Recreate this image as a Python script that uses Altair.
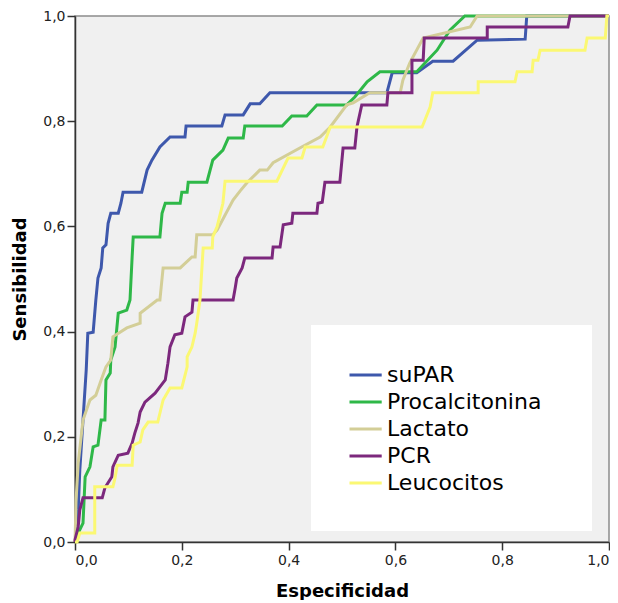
import altair as alt
import pandas as pd

series_names = ["suPAR", "Procalcitonina", "Lactato", "PCR", "Leucocitos"]
series_colors = ["#3E58AC", "#2EB848", "#D3CE97", "#7C287D", "#FBF873"]

# 1 - Especificidad (x) and Sensibilidad (y) for each ROC curve
supar_x = [0, 0.002, 0.006, 0.009, 0.015, 0.021, 0.024, 0.034, 0.039, 0.043, 0.049, 0.052, 0.058, 0.062,
           0.067, 0.081, 0.086, 0.090, 0.125, 0.135, 0.144, 0.159, 0.178, 0.206, 0.208, 0.275, 0.281,
           0.315, 0.328, 0.346, 0.365, 0.584, 0.594, 0.640, 0.670, 0.708, 0.753, 0.843, 0.846, 1.0]
supar_y = [0, 0.004, 0.061, 0.137, 0.232, 0.327, 0.397, 0.399, 0.460, 0.502, 0.521, 0.559, 0.565, 0.606,
           0.625, 0.625, 0.644, 0.665, 0.665, 0.707, 0.726, 0.751, 0.770, 0.770, 0.791, 0.791, 0.812,
           0.812, 0.833, 0.833, 0.854, 0.854, 0.892, 0.892, 0.914, 0.914, 0.954, 0.956, 1.0, 1.0]

pct_x = [0, 0.006, 0.015, 0.019, 0.028, 0.034, 0.043, 0.049, 0.056, 0.058, 0.066, 0.067, 0.075, 0.081,
         0.097, 0.103, 0.107, 0.109, 0.159, 0.163, 0.169, 0.197, 0.200, 0.210, 0.212, 0.247, 0.258,
         0.277, 0.287, 0.315, 0.318, 0.388, 0.406, 0.434, 0.453, 0.509, 0.524, 0.547, 0.571, 0.640,
         0.678, 0.702, 0.730, 1.0]
pct_y = [0, 0.017, 0.036, 0.124, 0.143, 0.181, 0.184, 0.232, 0.232, 0.308, 0.321, 0.346, 0.371, 0.435,
         0.441, 0.460, 0.542, 0.580, 0.580, 0.625, 0.644, 0.644, 0.665, 0.665, 0.684, 0.684, 0.726,
         0.745, 0.768, 0.768, 0.791, 0.791, 0.810, 0.810, 0.831, 0.831, 0.846, 0.875, 0.894, 0.894,
         0.935, 0.973, 1.0, 1.0]

lac_x = [0, 0.002, 0.006, 0.015, 0.028, 0.039, 0.049, 0.058, 0.067, 0.071, 0.097, 0.122, 0.122, 0.154,
         0.159, 0.165, 0.197, 0.219, 0.225, 0.228, 0.258, 0.266, 0.296, 0.309, 0.322, 0.346, 0.360,
         0.371, 0.421, 0.459, 0.478, 0.509, 0.521, 0.552, 0.609, 0.614, 0.627, 0.652, 0.740, 0.753, 1.0]
lac_y = [0, 0.080, 0.150, 0.232, 0.270, 0.279, 0.308, 0.333, 0.346, 0.390, 0.407, 0.416, 0.435, 0.460,
         0.460, 0.521, 0.521, 0.542, 0.542, 0.584, 0.584, 0.593, 0.650, 0.667, 0.683, 0.707, 0.707,
         0.721, 0.749, 0.770, 0.789, 0.831, 0.835, 0.854, 0.854, 0.878, 0.911, 0.958, 0.979, 1.0, 1.0]

pcr_x = [0, 0, 0.006, 0.009, 0.015, 0.051, 0.056, 0.069, 0.071, 0.081, 0.099, 0.107, 0.112, 0.118,
         0.122, 0.131, 0.150, 0.159, 0.169, 0.174, 0.178, 0.187, 0.200, 0.206, 0.219, 0.221, 0.296,
         0.300, 0.303, 0.313, 0.318, 0.369, 0.371, 0.384, 0.390, 0.406, 0.408, 0.453, 0.455, 0.463,
         0.468, 0.496, 0.502, 0.524, 0.528, 0.537, 0.584, 0.586, 0.631, 0.631, 0.652, 0.654, 0.772,
         0.772, 0.923, 0.927, 1.0]
pcr_y = [0, 0.004, 0.029, 0.061, 0.084, 0.084, 0.103, 0.124, 0.143, 0.165, 0.169, 0.188, 0.207, 0.226,
         0.247, 0.266, 0.283, 0.295, 0.308, 0.340, 0.371, 0.394, 0.397, 0.428, 0.437, 0.460, 0.460,
         0.483, 0.502, 0.521, 0.540, 0.540, 0.561, 0.561, 0.603, 0.606, 0.625, 0.625, 0.644, 0.646,
         0.684, 0.684, 0.749, 0.749, 0.789, 0.831, 0.831, 0.854, 0.854, 0.916, 0.916, 0.958, 0.958,
         0.979, 0.979, 1.0, 1.0]

leu_x = [0, 0.004, 0.009, 0.037, 0.037, 0.071, 0.075, 0.079, 0.107, 0.109, 0.122, 0.127, 0.137, 0.155,
         0.165, 0.178, 0.200, 0.210, 0.210, 0.219, 0.225, 0.228, 0.234, 0.240, 0.257, 0.258, 0.266,
         0.277, 0.281, 0.378, 0.399, 0.425, 0.431, 0.464, 0.478, 0.650, 0.665, 0.670, 0.755, 0.755,
         0.824, 0.828, 0.856, 0.858, 0.867, 0.871, 0.955, 0.959, 0.993, 0.996, 1.0]
leu_y = [0, 0, 0.017, 0.017, 0.105, 0.105, 0.122, 0.146, 0.146, 0.184, 0.190, 0.213, 0.228, 0.228,
         0.270, 0.293, 0.293, 0.333, 0.352, 0.371, 0.397, 0.416, 0.460, 0.559, 0.559, 0.580, 0.599,
         0.644, 0.686, 0.686, 0.730, 0.730, 0.751, 0.751, 0.789, 0.789, 0.827, 0.854, 0.854, 0.875,
         0.875, 0.894, 0.894, 0.916, 0.916, 0.935, 0.935, 0.958, 0.958, 1.0, 1.0]

all_x = [supar_x, pct_x, lac_x, pcr_x, leu_x]
all_y = [supar_y, pct_y, lac_y, pcr_y, leu_y]

rows = []
for name, xs, ys in zip(series_names, all_x, all_y):
    for i, (xv, yv) in enumerate(zip(xs, ys)):
        rows.append({"serie": name, "x": xv, "y": yv, "idx": i})
df = pd.DataFrame(rows)

label_expr = "replace(format(datum.value, '.1f'), '.', ',')"

chart = alt.Chart(df).mark_line(strokeWidth=3, interpolate="linear").encode(
    x=alt.X("x:Q", title="Especificidad",
            scale=alt.Scale(domain=[0, 1], nice=False, zero=True),
            axis=alt.Axis(values=[0, 0.2, 0.4, 0.6, 0.8, 1.0], labelExpr=label_expr,
                          grid=False, tickSize=8, labelPadding=3, titlePadding=15)),
    y=alt.Y("y:Q", title="Sensibilidad",
            scale=alt.Scale(domain=[0, 1], nice=False, zero=True),
            axis=alt.Axis(values=[0, 0.2, 0.4, 0.6, 0.8, 1.0], labelExpr=label_expr,
                          grid=False, tickSize=8, labelPadding=2, titlePadding=13)),
    color=alt.Color("serie:N",
                    scale=alt.Scale(domain=series_names, range=series_colors),
                    legend=alt.Legend(orient="none", legendX=236, legendY=309,
                                      fillColor="white", padding=37,
                                      title=" ", titleOrient="right", titlePadding=14,
                                      titleFontSize=10,
                                      symbolType="M-1,0L1.8,0", symbolSize=529,
                                      symbolStrokeWidth=3, labelFontSize=22,
                                      labelFont="DejaVu Sans", labelColor="#000",
                                      labelOffset=13, rowPadding=3, labelLimit=400)),
    order=alt.Order("idx:Q"),
).properties(
    width=534, height=526,
    padding={"left": 67, "top": 8, "right": 1, "bottom": 58},
    autosize=alt.AutoSizeParams(type="none"),
).configure_view(
    fill="#F0F0F0", stroke="#8C8C8C", strokeWidth=1.5
).configure_axis(
    labelFont="DejaVu Sans", labelFontSize=14, labelColor="#222",
    titleFont="DejaVu Sans", titleFontSize=18, titleFontWeight="bold", titleColor="#000",
    domainColor="#333", domainWidth=1.5, tickColor="#333", tickWidth=1.5
)

chart.save("out.html", embed_options={"renderer": "svg", "actions": False})
